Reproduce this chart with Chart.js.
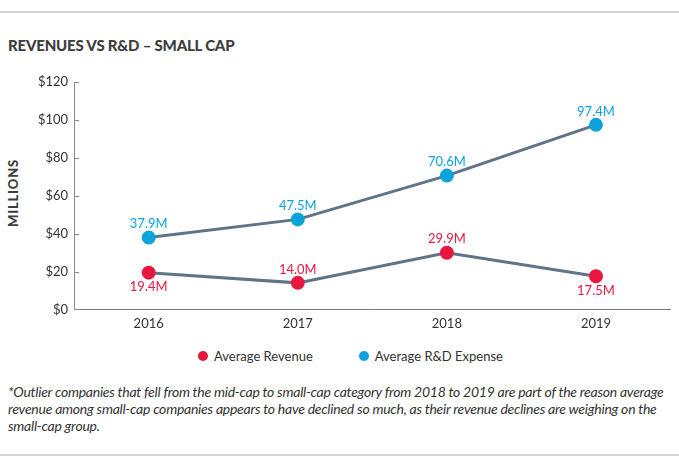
<!DOCTYPE html>
<html>
<head>
<meta charset="utf-8">
<script src="https://cdn.jsdelivr.net/npm/chart.js@4"></script>
<style>
  body { margin: 0; background: #fff; font-family: Lato, "Open Sans", sans-serif; }
  #wrap { position: relative; width: 679px; height: 470px; }
  .rule { position: absolute; left: 0; width: 679px; height: 2px; background: #d4d4d4; }
  #title { position: absolute; left: 8px; top: 36px; font-size: 15px; font-weight: 900; color: #3d3d3d; letter-spacing: -0.2px; }
  #ylab { position: absolute; left: -21px; top: 185px; transform: rotate(-90deg); font-size: 13px; font-weight: 900; color: #3d3d3d; letter-spacing: 0.8px; }
  #box { position: absolute; left: 0; top: 62px; width: 679px; height: 277px; }
  #legend { position: absolute; top: 345px; left: 198px; font-size: 13px; color: #333; white-space: nowrap; }
  #legend span { display: inline-block; vertical-align: middle; }
  #legend .dot { width: 10px; height: 10px; border-radius: 50%; margin-right: 6px; }
  #note { position: absolute; left: 8px; top: 383px; width: 670px; font-size: 14px; line-height: 17px; font-style: italic; color: #333; letter-spacing: -0.25px; white-space: nowrap; }
</style>
</head>
<body>
<div id="wrap">
  <div class="rule" style="top:11px"></div>
  <div id="title">REVENUES VS R&amp;D – SMALL CAP</div>
  <div id="ylab">MILLIONS</div>
  <div id="box"><canvas id="chart"></canvas></div>
  <div id="legend"></div>
  <div id="note">*Outlier companies that fell from the mid-cap to small-cap category from 2018 to 2019 are part of the reason average<br>revenue among small-cap companies appears to have declined so much, as their revenue declines are weighing on the<br>small-cap group.</div>
  <div class="rule" style="top:454px"></div>
</div>
<script>
var years = ["2016", "2017", "2018", "2019"];
var revenue = [19.4, 14.0, 29.9, 17.5];
var rdExpense = [37.9, 47.5, 70.6, 97.4];
var revenueLabels = ["19.4M", "14.0M", "29.9M", "17.5M"];
var rdLabels = ["37.9M", "47.5M", "70.6M", "97.4M"];
var revenueLabelPos = ["below", "above", "above", "below"];
var rdLabelPos = ["above", "above", "above", "above"];
var yTicks = [0, 20, 40, 60, 80, 100, 120];

var RED = "#e8173f";
var BLUE = "#0ca3dd";
var LINE = "#5f7487";
var FONT = "Lato, 'Open Sans', sans-serif";

// little ticks drawn inward from the y axis
var innerTicks = {
    id: "innerTicks",
    afterDraw: function(chart) {
        var ctx = chart.ctx;
        var y = chart.scales.y;
        ctx.save();
        ctx.strokeStyle = "#8a8a8a";
        ctx.lineWidth = 1;
        yTicks.forEach(function(v) {
            var py = Math.round(y.getPixelForValue(v)) + 0.5;
            ctx.beginPath();
            ctx.moveTo(y.right, py);
            ctx.lineTo(y.right + 5, py);
            ctx.stroke();
        });
        ctx.restore();
    }
};

var pointLabels = {
    id: "pointLabels",
    afterDatasetsDraw: function(chart) {
        var ctx = chart.ctx;
        ctx.save();
        ctx.font = "13px " + FONT;
        ctx.textAlign = "center";
        chart.data.datasets.forEach(function(ds, i) {
            var meta = chart.getDatasetMeta(i);
            ctx.fillStyle = ds.pointBackgroundColor;
            meta.data.forEach(function(pt, j) {
                if (ds.labelPos[j] === "above") {
                    ctx.textBaseline = "bottom";
                    ctx.fillText(ds.valueLabels[j], pt.x, pt.y - 7);
                } else {
                    ctx.textBaseline = "top";
                    ctx.fillText(ds.valueLabels[j], pt.x, pt.y + 8);
                }
            });
        });
        ctx.restore();
    }
};

var chart = new Chart(document.getElementById("chart"), {
    type: "line",
    data: {
        labels: years,
        datasets: [
            {
                label: "Average Revenue",
                data: revenue,
                valueLabels: revenueLabels,
                labelPos: revenueLabelPos,
                borderColor: LINE,
                borderWidth: 3,
                pointBackgroundColor: RED,
                pointBorderColor: RED,
                backgroundColor: RED,
                pointRadius: 5.5,
                tension: 0
            },
            {
                label: "Average R&D Expense",
                data: rdExpense,
                valueLabels: rdLabels,
                labelPos: rdLabelPos,
                borderColor: LINE,
                borderWidth: 3,
                pointBackgroundColor: BLUE,
                pointBorderColor: BLUE,
                backgroundColor: BLUE,
                pointRadius: 5.5,
                tension: 0
            }
        ]
    },
    options: {
        responsive: true,
        maintainAspectRatio: false,
        animation: false,
        layout: { padding: { left: 32, right: 6, top: 20, bottom: 0 } },
        plugins: {
            tooltip: { enabled: false },
            legend: { display: false }
        },
        scales: {
            x: {
                offset: true,
                grid: { display: false, drawTicks: false },
                border: { display: true, color: "#777", width: 1 },
                ticks: { color: "#333", font: { family: FONT, size: 13 }, padding: 7 }
            },
            y: {
                min: 0,
                max: 120,
                grid: { display: false, drawTicks: false },
                border: { display: true, color: "#8a8a8a", width: 1 },
                afterBuildTicks: function(axis) {
                    axis.ticks = yTicks.map(function(v) { return { value: v }; });
                },
                ticks: {
                    color: "#333",
                    padding: 6,
                    font: { family: FONT, size: 13 },
                    callback: function(v) { return "$" + v; }
                }
            }
        }
    },
    plugins: [innerTicks, pointLabels]
});

// legend built from the datasets
var legend = document.getElementById("legend");
chart.data.datasets.forEach(function(ds, i) {
    var item = document.createElement("span");
    item.style.marginRight = i === 0 ? "46px" : "0";
    item.innerHTML = '<span class="dot" style="background:' + ds.pointBackgroundColor + '"></span><span>' + ds.label.replace("&", "&amp;") + '</span>';
    legend.appendChild(item);
});
</script>
</body>
</html>
